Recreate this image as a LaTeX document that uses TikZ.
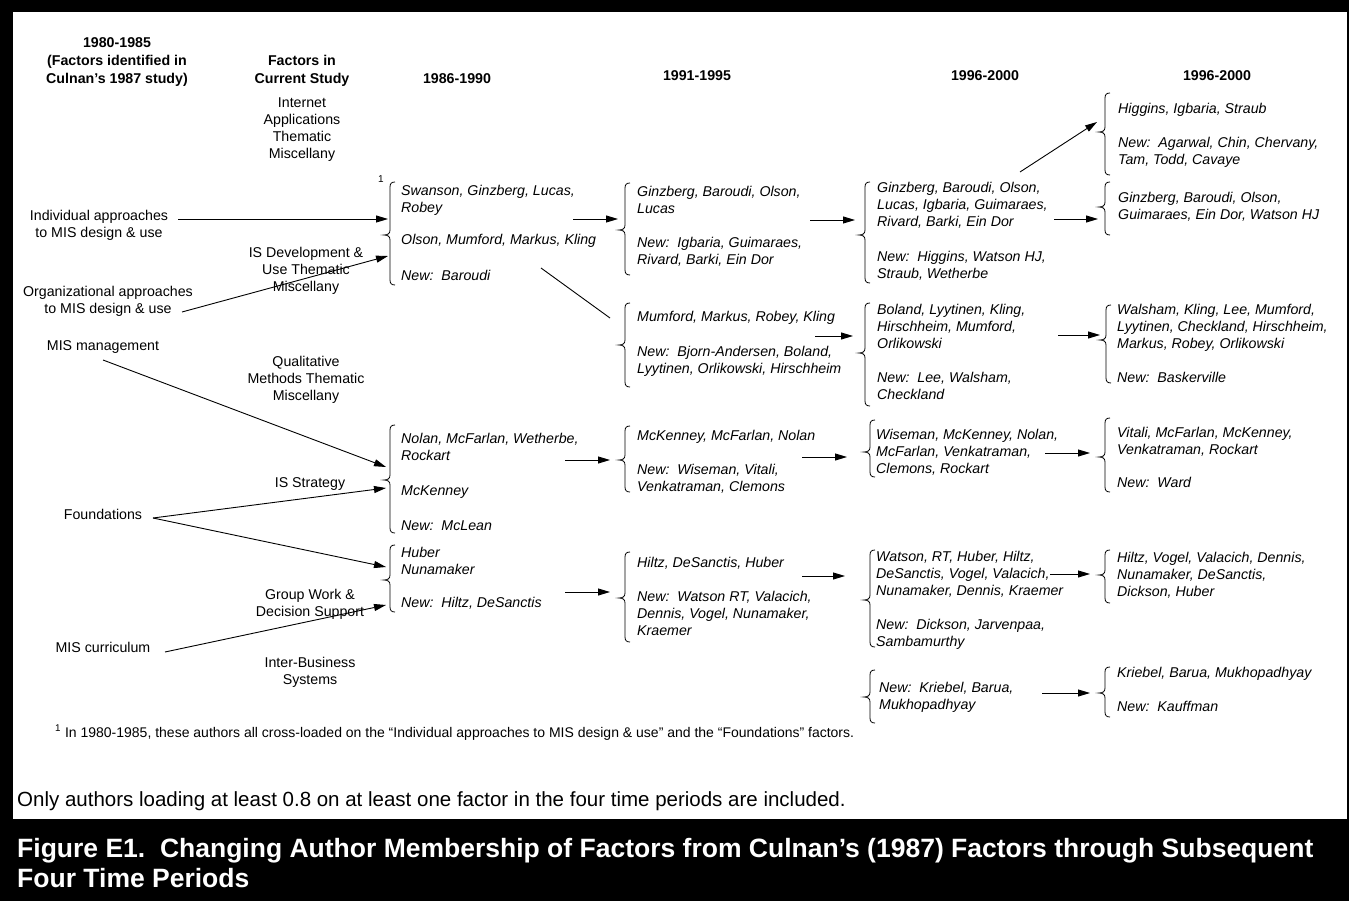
\documentclass[tikz,border=0pt]{standalone}
\usepackage{fontspec}
\setmainfont{Liberation Sans}
\usetikzlibrary{arrows.meta}
\tikzset{
  x=1pt, y=-1pt,
  lbl/.style={inner sep=0pt, font=\fontsize{14.2}{17}\selectfont\frenchspacing, align=center, anchor=base},
  hdr/.style={inner sep=0pt, font=\fontsize{14.2}{18}\selectfont\bfseries\frenchspacing, align=center, anchor=base},
  auth/.style={inner sep=0pt, font=\fontsize{14.2}{17}\selectfont\itshape\frenchspacing, align=left, anchor=base west},
  arr/.style={line width=0.9pt, -{Triangle[length=12pt,width=7pt]}},
  plainline/.style={line width=0.9pt},
  bracestyle/.style={line width=0.8pt},
}
% multi-line nodes are placed by the baseline of their LAST line
\newcommand{\mybrace}[4]{% x, top, tip, bottom
  \draw[bracestyle] (#1+5,#2) .. controls (#1+1.5,#2) and (#1,#2+1.5) .. (#1,#2+5)
    -- (#1,#3-5) .. controls (#1,#3-1.5) and (#1-2,#3) .. (#1-6,#3)
    .. controls (#1-2,#3) and (#1,#3+1.5) .. (#1,#3+5)
    -- (#1,#4-5) .. controls (#1,#4-1.5) and (#1+1.5,#4) .. (#1+5,#4);}
\begin{document}
\begin{tikzpicture}
\useasboundingbox (0,0) rectangle (1349,901);
\fill[black] (0,0) rectangle (1349,901);
\fill[white] (13,12) rectangle (1347,819);

% headers
\node[hdr] (h0) at (117,84) {1980-1985\\(Factors identified in\\Culnan’s 1987 study)};
\node[hdr] (h1) at (302,84) {Factors in\\Current Study};
\node[hdr] (h2) at (457,84) {1986-1990};
\node[hdr] (h3) at (697,81) {1991-1995};
\node[hdr] (h4) at (985,81) {1996-2000};
\node[hdr] (h5) at (1217,81) {1996-2000};

% factors in current study
\node[lbl] (f1) at (302,159) {Internet\\Applications\\Thematic\\Miscellany};
\node[lbl] (f2) at (306,291) {IS Development \&\\Use Thematic\\Miscellany};
\node[lbl] (f3) at (306,400) {Qualitative\\Methods Thematic\\Miscellany};
\node[lbl] (f4) at (310,487) {IS Strategy};
\node[lbl] (f5) at (310,616) {Group Work \&\\Decision Support};
\node[lbl] (f6) at (310,684) {Inter-Business\\Systems};

% Culnan factors
\node[lbl] (l1) at (99,238) {Individual approaches\\to MIS design \& use};
\node[lbl] (l2) at (108,313) {Organizational approaches\\to MIS design \& use};
\node[lbl] (l3) at (103,350) {MIS management};
\node[lbl] (l4) at (103,519) {Foundations};
\node[lbl] (l5) at (103,652) {MIS curriculum};

% column 1986-1990
\node[font=\fontsize{10}{12}\selectfont, inner sep=0pt, anchor=base] (sup1) at (381,183) {1};
\node[auth] (g1a) at (401,213) {Swanson, Ginzberg, Lucas,\\Robey};
\node[auth] (g1b) at (401,244.5) {Olson, Mumford, Markus, Kling};
\node[auth] (g1c) at (401,280) {New:\ \ Baroudi};
\node[auth] (g1d) at (401,460.5) {Nolan, McFarlan, Wetherbe,\\Rockart};
\node[auth] (g1e) at (401,495.5) {McKenney};
\node[auth] (g1f) at (401,530.5) {New:\ \ McLean};
\node[auth] (g1g) at (401,574.5) {Huber\\Nunamaker};
\node[auth] (g1h) at (401,607.5) {New:\ \ Hiltz, DeSanctis};

% column 1991-1995
\node[auth] (g2a) at (637,213.5) {Ginzberg, Baroudi, Olson,\\Lucas};
\node[auth] (g2b) at (637,264.5) {New:\ \ Igbaria, Guimaraes,\\Rivard, Barki, Ein Dor};
\node[auth] (g2c) at (637,321.5) {Mumford, Markus, Robey, Kling};
\node[auth] (g2d) at (637,373.5) {New:\ \ Bjorn-Andersen, Boland,\\Lyytinen, Orlikowski, Hirschheim};
\node[auth] (g2e) at (637,440.5) {McKenney, McFarlan, Nolan};
\node[auth] (g2f) at (637,491.5) {New:\ \ Wiseman, Vitali,\\Venkatraman, Clemons};
\node[auth] (g2g) at (637,567.5) {Hiltz, DeSanctis, Huber};
\node[auth] (g2h) at (637,635.5) {New:\ \ Watson RT, Valacich,\\Dennis, Vogel, Nunamaker,\\Kraemer};

% column 1996-2000
\node[auth] (g3a) at (877,226.5) {Ginzberg, Baroudi, Olson,\\Lucas, Igbaria, Guimaraes,\\Rivard, Barki, Ein Dor};
\node[auth] (g3b) at (877,278.5) {New:\ \ Higgins, Watson HJ,\\Straub, Wetherbe};
\node[auth] (g3c) at (877,348.5) {Boland, Lyytinen, Kling,\\Hirschheim, Mumford,\\Orlikowski};
\node[auth] (g3d) at (877,399.5) {New:\ \ Lee, Walsham,\\Checkland};
\node[auth] (g3e) at (876,473.5) {Wiseman, McKenney, Nolan,\\McFarlan, Venkatraman,\\Clemons, Rockart};
\node[auth] (g3f) at (876,595.5) {Watson, RT, Huber, Hiltz,\\DeSanctis, Vogel, Valacich,\\Nunamaker, Dennis, Kraemer};
\node[auth] (g3g) at (876,646.5) {New:\ \ Dickson, Jarvenpaa,\\Sambamurthy};
\node[auth] (g3h) at (879,709.5) {New:\ \ Kriebel, Barua,\\Mukhopadhyay};

% column 1996-2000 (second)
\node[auth] (g4a) at (1118,113.5) {Higgins, Igbaria, Straub};
\node[auth] (g4b) at (1118,164.5) {New:\ \ Agarwal, Chin, Chervany,\\Tam, Todd, Cavaye};
\node[auth] (g4c) at (1118,219.5) {Ginzberg, Baroudi, Olson,\\Guimaraes, Ein Dor, Watson HJ};
\node[auth] (g4d) at (1117,348.5) {Walsham, Kling, Lee, Mumford,\\Lyytinen, Checkland, Hirschheim,\\Markus, Robey, Orlikowski};
\node[auth] (g4e) at (1117,382.5) {New:\ \ Baskerville};
\node[auth] (g4f) at (1117,454.5) {Vitali, McFarlan, McKenney,\\Venkatraman, Rockart};
\node[auth] (g4g) at (1117,487.5) {New:\ \ Ward};
\node[auth] (g4h) at (1117,596.5) {Hiltz, Vogel, Valacich, Dennis,\\Nunamaker, DeSanctis,\\Dickson, Huber};
\node[auth] (g4i) at (1117,677.5) {Kriebel, Barua, Mukhopadhyay};
\node[auth] (g4j) at (1117,711.5) {New:\ \ Kauffman};

% braces
\mybrace{390}{182}{235}{285}
\mybrace{625}{183}{230}{275}
\mybrace{625}{303}{345}{387}
\mybrace{865}{182}{235}{283}
\mybrace{865}{303}{353}{406}
\mybrace{1105}{93}{132}{175}
\mybrace{1105}{182}{207}{235}
\mybrace{1106}{305}{340}{383}
\mybrace{390}{425}{480}{533}
\mybrace{625}{426}{460}{492}
\mybrace{870}{420}{452}{477}
\mybrace{1105}{418}{457}{492}
\mybrace{390}{545}{580}{612}
\mybrace{625}{552}{598}{642}
\mybrace{870}{550}{600}{647}
\mybrace{1105}{550}{575}{603}
\mybrace{870}{670}{697}{723}
\mybrace{1105}{667}{693}{717}

% connector end points
\coordinate (s1) at (178,219);  \coordinate (e1) at (388,219);
\coordinate (s2) at (182,312);  \coordinate (e2) at (388,256);
\coordinate (s3) at (103,360);  \coordinate (e3) at (386,467);
\coordinate (s4) at (153,518);  \coordinate (e4) at (386,488);
                                \coordinate (e5) at (386,567);
\coordinate (s6) at (165,652);  \coordinate (e6) at (386,605);
\coordinate (s7) at (573,219);  \coordinate (e7) at (618,219);
\coordinate (s8) at (541,268);  \coordinate (e8) at (610,318);
\coordinate (s9) at (810,220);  \coordinate (e9) at (855,220);
\coordinate (s10) at (815,336); \coordinate (e10) at (853,336);
\coordinate (s11) at (1020,172); \coordinate (e11) at (1097,122);
\coordinate (s12) at (1054,219); \coordinate (e12) at (1098,219);
\coordinate (s13) at (1058,335); \coordinate (e13) at (1100,335);
\coordinate (s14) at (565,460); \coordinate (e14) at (610,460);
\coordinate (s15) at (802,457); \coordinate (e15) at (847,457);
\coordinate (s16) at (565,592); \coordinate (e16) at (610,592);
\coordinate (s17) at (802,576); \coordinate (e17) at (845,576);
\coordinate (s18) at (1045,453); \coordinate (e18) at (1090,453);
\coordinate (s19) at (1050,574); \coordinate (e19) at (1090,574);
\coordinate (s20) at (1042,693); \coordinate (e20) at (1090,693);

\draw[arr] (s1) -- (e1);
\draw[arr] (s2) -- (e2);
\draw[arr] (s3) -- (e3);
\draw[arr] (s4) -- (e4);
\draw[arr] (s4) -- (e5);
\draw[arr] (s6) -- (e6);
\draw[arr] (s7) -- (e7);
\draw[plainline] (s8) -- (e8);
\draw[arr] (s9) -- (e9);
\draw[arr] (s10) -- (e10);
\draw[arr] (s11) -- (e11);
\draw[arr] (s12) -- (e12);
\draw[arr] (s13) -- (e13);
\draw[arr] (s14) -- (e14);
\draw[arr] (s15) -- (e15);
\draw[arr] (s16) -- (e16);
\draw[arr] (s17) -- (e17);
\draw[arr] (s18) -- (e18);
\draw[arr] (s19) -- (e19);
\draw[arr] (s20) -- (e20);

% notes
\node[inner sep=0pt, anchor=base west, font=\fontsize{14}{16}\selectfont\frenchspacing] (fnote) at (55,737)
  {\textsuperscript{1} In 1980-1985, these authors all cross-loaded on the “Individual approaches to MIS design \& use” and the “Foundations” factors.};
\node[inner sep=0pt, anchor=base west, font=\fontsize{20.5}{24}\selectfont\frenchspacing] (only) at (17,806)
  {Only authors loading at least 0.8 on at least one factor in the four time periods are included.};
\node[inner sep=0pt, anchor=base west, align=left, text=white, font=\fontsize{26.5}{30}\selectfont\bfseries\frenchspacing] (title) at (17,887)
  {Figure E1.\ \ Changing Author Membership of Factors from Culnan’s (1987) Factors through Subsequent\\Four Time Periods};
\end{tikzpicture}
\end{document}
